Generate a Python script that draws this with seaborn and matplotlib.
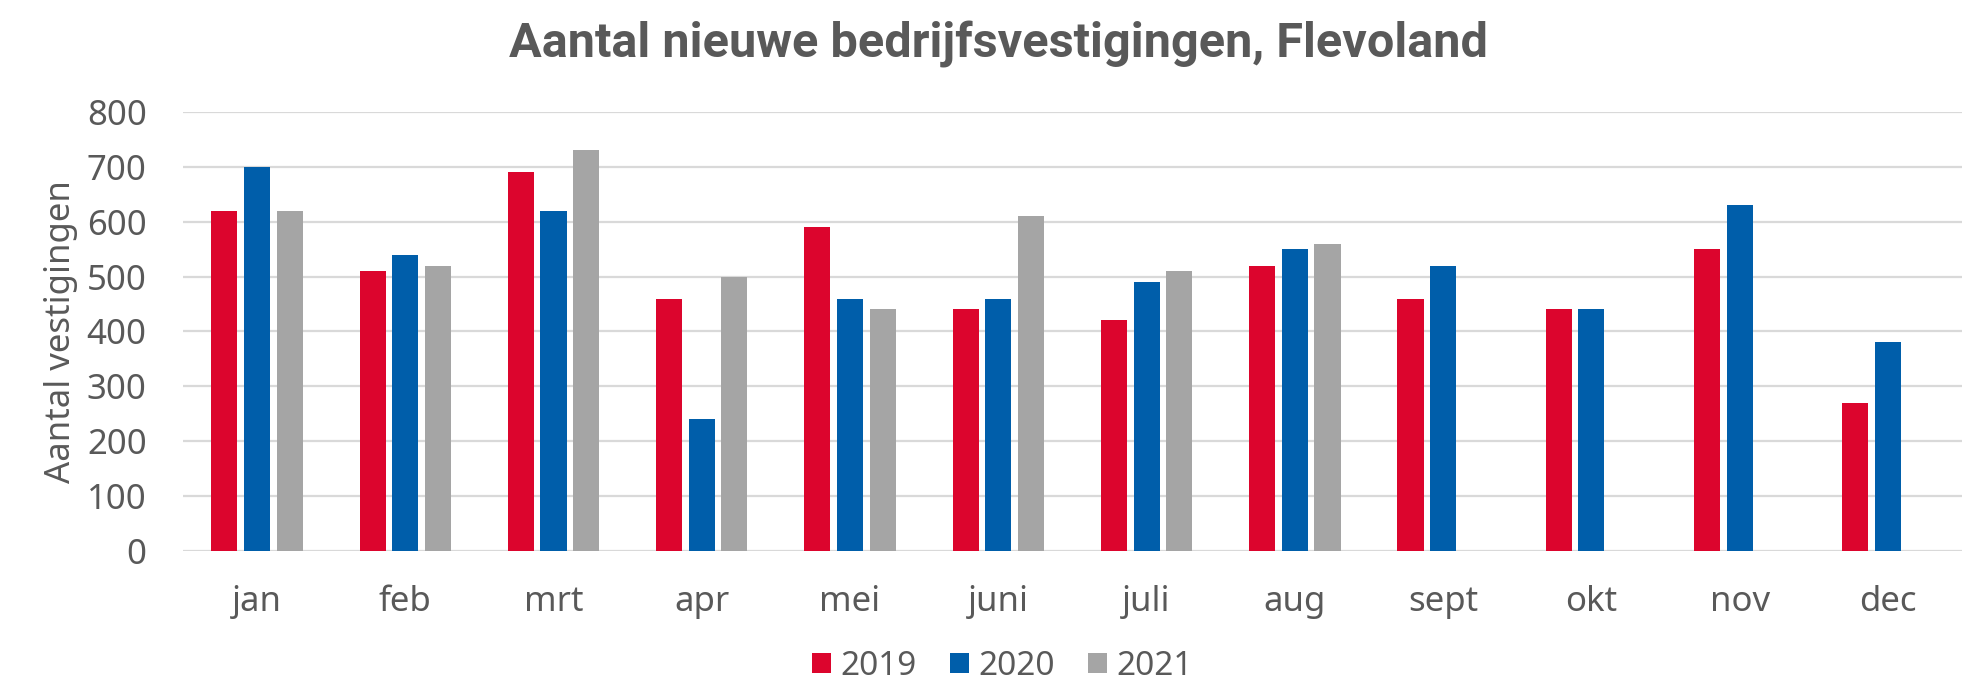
import matplotlib
matplotlib.use("Agg")
import matplotlib.pyplot as plt
import seaborn as sns
import pandas as pd
import numpy as np

months = ["jan", "feb", "mrt", "apr", "mei", "juni", "juli", "aug", "sept", "okt", "nov", "dec"]
years = ["2019", "2020", "2021"]
v2019 = [620, 510, 690, 460, 590, 440, 420, 520, 460, 440, 550, 270]
v2020 = [700, 540, 620, 240, 460, 460, 490, 550, 520, 440, 630, 380]
v2021 = [620, 520, 730, 500, 440, 610, 510, 560, None, None, None, None]
colors = ["#DC052D", "#005EAA", "#A5A5A5"]

rows = []
for yr, vals in zip(years, [v2019, v2020, v2021]):
    for m, v in zip(months, vals):
        rows.append({"maand": m, "jaar": yr, "waarde": np.nan if v is None else v})
df = pd.DataFrame(rows)

sns.set_theme(style="white")
plt.rcParams["font.family"] = ["Noto Sans", "DejaVu Sans"]
txt = "#595959"

fig = plt.figure(figsize=(19.66, 6.81), dpi=100)
ax = fig.add_axes([0.093, 0.1905, 0.905, 0.6455])

sns.barplot(data=df, x="maand", y="waarde", hue="jaar", order=months, hue_order=years,
            palette=colors, width=0.66, gap=0.2, dodge=True, ax=ax, linewidth=0,
            errorbar=None, saturation=1)

ax.set_ylim(0, 800)
ax.set_xlim(-0.5, len(months) - 0.5)
ax.set_yticks(range(0, 801, 100))
ax.yaxis.grid(True, color="#D9D9D9", linewidth=1.6)
ax.set_axisbelow(True)
for s in ax.spines.values():
    s.set_visible(False)
ax.tick_params(axis="both", length=0, labelsize=25, colors=txt)
ax.tick_params(axis="y", pad=26)
ax.tick_params(axis="x", pad=24)
ax.set_xlabel("")
ax.set_ylabel("Aantal vestigingen", fontsize=25, color=txt, labelpad=6)

handles, labels = ax.get_legend_handles_labels()
ax.get_legend().remove()
fig.legend(handles, labels, loc="center", bbox_to_anchor=(0.51, 0.022), ncol=3,
           frameon=False, fontsize=24, labelcolor=txt, handlelength=0.55, handleheight=0.55,
           handletextpad=0.3, columnspacing=1.0)

fig.suptitle("Aantal nieuwe bedrijfsvestigingen, Flevoland", x=0.508, y=0.935,
             fontsize=35, fontweight="bold", color=txt, va="center",
             family=["Roboto", "DejaVu Sans"])

fig.savefig("out.png", dpi=100)
